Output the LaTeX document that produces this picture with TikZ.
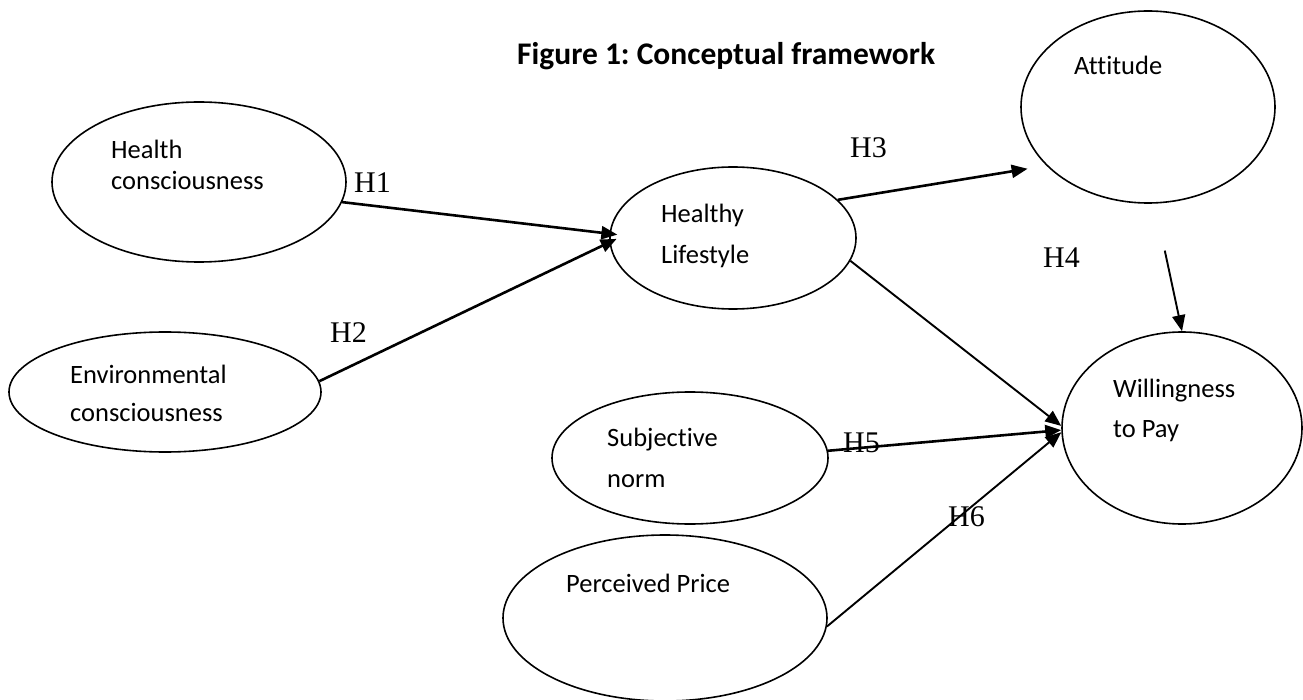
\documentclass[tikz,border=0pt]{standalone}
\usepackage{fontspec}
\setmainfont{Carlito}[Ligatures=CommonOff]
\newfontfamily\hypfont{Liberation Serif}
\usetikzlibrary{arrows.meta}
\usetikzlibrary{shapes.geometric}
\frenchspacing

\tikzset{
  construct/.style={draw, ellipse, line width=1.6pt, inner sep=0pt},
  ctext/.style={anchor=base west, align=left, inner sep=0pt},
  hyp/.style={anchor=base west, inner sep=0pt, font=\hypfont\fontsize{30}{30}\selectfont},
}

\begin{document}
\begin{tikzpicture}[x=1pt, y=-1pt, >={Triangle[length=16pt,width=13pt]}]
\useasboundingbox (0,0) rectangle (1303,700);
% title
\node[anchor=base west, inner sep=0pt, font=\bfseries\fontsize{31.5}{36}\selectfont] (title) at (517,65) {Figure 1: Conceptual framework};
% constructs
\node[construct, minimum width=294pt, minimum height=160pt] (hc) at (199,182) {};
\node[construct, minimum width=312pt, minimum height=120pt] (ec) at (165,392) {};
\node[construct, minimum width=246pt, minimum height=142pt] (hl) at (733,238) {};
\node[construct, minimum width=254pt, minimum height=192pt] (att) at (1148,107) {};
\node[construct, minimum width=240pt, minimum height=192pt] (wtp) at (1182,428) {};
\node[construct, minimum width=276pt, minimum height=132pt] (sn) at (690,458) {};
\node[construct, minimum width=324pt, minimum height=166pt] (pp) at (665,618) {};
% construct names (base = last line)
\node[ctext, font=\fontsize{26.5}{31}\selectfont] (hc-txt) at (111,190) {Health\\consciousness};
\node[ctext, font=\fontsize{26.5}{38}\selectfont] (ec-txt) at (70,421) {Environmental\\consciousness};
\node[ctext, font=\fontsize{26.5}{41}\selectfont] (hl-txt) at (661,264) {Healthy\\Lifestyle};
\node[ctext, font=\fontsize{26.5}{32}\selectfont] (att-txt) at (1074,75) {Attitude};
\node[ctext, font=\fontsize{26.5}{40}\selectfont] (wtp-txt) at (1113,437) {Willingness\\to Pay};
\node[ctext, font=\fontsize{26.5}{41}\selectfont] (sn-txt) at (607,487) {Subjective\\norm};
\node[ctext, font=\fontsize{26.5}{32}\selectfont] (pp-txt) at (566,592) {Perceived Price};
% hypotheses
\foreach \h/\x/\y in {H1/354/193, H2/330/342, H3/850/158, H4/1043/268, H5/843/452, H6/948/526}
  \node[hyp] (\h) at (\x,\y) {\h};
% paths
\draw[->, line width=2.6pt, shorten >=-8pt] (hc.-8) -- (hl.178);
\draw[->, line width=2.6pt, shorten >=-8pt] (ec.4) -- (hl.182);
\draw[->, line width=2.6pt, shorten >=19pt] (hl.20) -- (att.210);
\draw[->, line width=1.9pt, shorten <=48pt] (att.-86) -- (wtp.north);
\draw[->, line width=1.9pt] (hl.-11) -- (wtp.179);
\draw[->, line width=2.6pt] (sn.3) -- (wtp.181);
\draw[->, line width=1.9pt] (pp.-3) -- (wtp.182);
\end{tikzpicture}
\end{document}
